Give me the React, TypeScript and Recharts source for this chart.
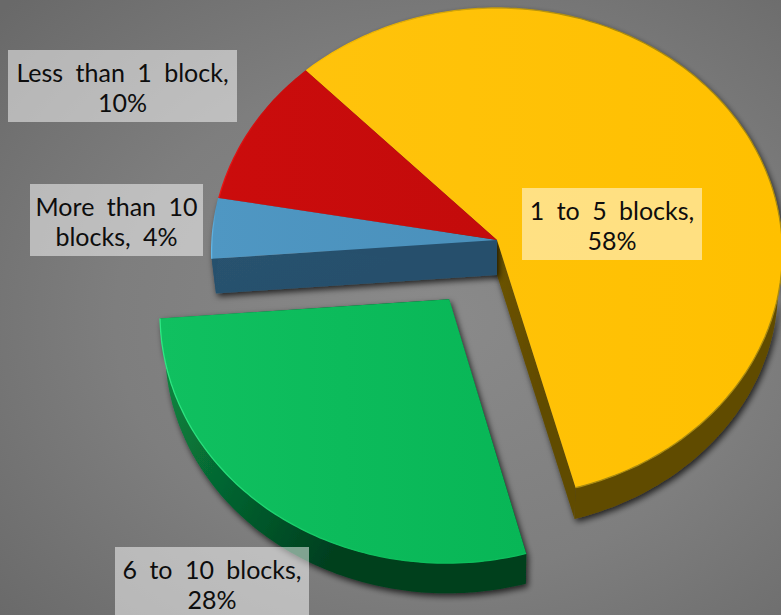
import { Pie, PieChart } from "recharts";

const categories = ["1 to 5 blocks", "6 to 10 blocks", "More than 10 blocks", "Less than 1 block"];
const shares = [58, 28, 4, 10];
const labelLines = [
  ["1 to 5 blocks,", "58%"],
  ["6 to 10 blocks,", "28%"],
  ["More than 10", "blocks, 4%"],
  ["Less than 1 block,", "10%"],
];

const data = categories.map((name, i) => ({ name, value: shares[i] }));

// look of each slice, same order as the data
const looks = [
  { id: "yellow", top: ["#ffc30c", "#ffc000"], wall: ["#6b5300", "#614b00"], rim: ["#ffc000", "#a88a10"], du: 0, dv: 0 },
  { id: "green", top: ["#10c060", "#08b656"], wall: ["#0b8d43", "#003f1f"], rim: ["#2fe884", "#0cbf5c"], du: -0.166, dv: 0.24 },
  { id: "blue", top: ["#4f97c3", "#4a90bb"], wall: ["#29526f", "#27506c"], rim: ["#62b6e6", "#4f97c3"], du: 0, dv: 0 },
  { id: "red", top: ["#cb0c0c", "#c30b0b"], wall: ["#7a0808", "#7a0808"], rim: ["#ea1414", "#cb0c0c"], du: 0, dv: 0 },
];

const labelBoxes = [
  { x: 522, y: 188, w: 180, h: 72 },
  { x: 115, y: 547, w: 194, h: 72 },
  { x: 30, y: 184, w: 173, h: 72 },
  { x: 8, y: 50, w: 229, h: 72 },
];

const TILT = 0.856;
const PERSPECTIVE = 0.0515;
const DEPTH = 35;
const BOTTOM_SCALE = 0.985;
const RAD = Math.PI / 180;

type Pt = [number, number];

function project(p: any, u: number, v: number): Pt {
  const w = 1 - PERSPECTIVE * v;
  return [p.cx + (p.outerRadius * u) / w, p.cy + (p.outerRadius * TILT * v) / w];
}

function rimPoints(p: any): Pt[] {
  const look = looks[p.index];
  const steps = Math.ceil(Math.abs(p.startAngle - p.endAngle));
  const out: Pt[] = [];
  for (let i = 0; i <= steps; i++) {
    const a = (p.startAngle + ((p.endAngle - p.startAngle) * i) / steps) * RAD;
    out.push(project(p, Math.cos(a) + look.du, -Math.sin(a) + look.dv));
  }
  return out;
}

function lower(p: any, pt: Pt): Pt {
  return [p.cx + BOTTOM_SCALE * (pt[0] - p.cx), p.cy + DEPTH + BOTTOM_SCALE * (pt[1] - p.cy)];
}

const toPath = (pts: Pt[], close = true) =>
  pts.map((pt, i) => `${i ? "L" : "M"}${pt[0].toFixed(1)} ${pt[1].toFixed(1)}`).join("") + (close ? "Z" : "");

function WallShape(p: any) {
  const look = looks[p.index];
  const rim = rimPoints(p);
  const apex = project(p, look.du, look.dv);
  // slices sitting wholly on the back half show no wall
  if (Math.max(...rim.map((pt) => pt[1])) <= p.cy) return <g />;
  const shell = [...rim, ...rim.map((pt) => lower(p, pt)).reverse()];
  const endSide = [apex, rim[rim.length - 1], lower(p, rim[rim.length - 1]), lower(p, apex)];
  const startSide = [apex, rim[0], lower(p, rim[0]), lower(p, apex)];
  const fill = `url(#wall-${look.id})`;
  return (
    <g filter="url(#wallShadow)">
      <path d={toPath(startSide)} fill={fill} />
      <path d={toPath(endSide)} fill={fill} />
      <path d={toPath(shell)} fill={fill} />
    </g>
  );
}

function TopShape(p: any) {
  const look = looks[p.index];
  const rim = rimPoints(p);
  const apex = project(p, look.du, look.dv);
  return (
    <g>
      <path d={toPath([apex, ...rim])} fill={`url(#top-${look.id})`} />
      <path d={toPath(rim, false)} fill="none" stroke={`url(#rim-${look.id})`} strokeWidth={1.3} />
    </g>
  );
}

function BoxLabel(p: any) {
  const box = labelBoxes[p.index];
  const lines = labelLines[p.index];
  const mid = box.x + box.w / 2;
  return (
    <g>
      <rect x={box.x} y={box.y} width={box.w} height={box.h} fill="#fff" fillOpacity={0.5} />
      {lines.map((line, i) => (
        <text
          key={line}
          x={mid}
          y={box.y + 32 + i * 30}
          textAnchor="middle"
          fill="#0d0d0d"
          fontFamily="Lato, sans-serif"
          fontSize={25}
          style={{ wordSpacing: 6 }}
        >
          {line}
        </text>
      ))}
    </g>
  );
}

export default function App() {
  return (
    <div
      style={{
        position: "absolute",
        left: 0,
        top: 0,
        width: 781,
        height: 615,
        overflow: "hidden",
        background: "radial-gradient(ellipse 75% 75% at 56% 52%, #8a8a8a 0%, #7e7e7e 55%, #696969 100%)",
      }}
    >
      <PieChart width={781} height={615} margin={{ top: 0, right: 0, bottom: 0, left: 0 }}>
        <defs>
          <filter id="wallShadow" x="-20%" y="-20%" width="140%" height="140%">
            <feDropShadow dx={2} dy={3} stdDeviation={3} floodColor="#000" floodOpacity={0.75} />
          </filter>
          {looks.map((look) => (
            <linearGradient key={look.id} id={`top-${look.id}`} x1="0" y1="0" x2="1" y2="0">
              <stop offset="0%" stopColor={look.top[0]} />
              <stop offset="100%" stopColor={look.top[1]} />
            </linearGradient>
          ))}
          {looks.map((look) => (
            <linearGradient key={look.id} id={`wall-${look.id}`} x1="0" y1="0" x2="1" y2="0.4">
              <stop offset="0%" stopColor={look.wall[0]} />
              <stop offset="70%" stopColor={look.wall[1]} />
            </linearGradient>
          ))}
          {looks.map((look) => (
            <linearGradient key={look.id} id={`rim-${look.id}`} x1="0" y1="0" x2="1" y2="0">
              <stop offset="0%" stopColor={look.rim[0]} />
              <stop offset="60%" stopColor={look.rim[1]} />
            </linearGradient>
          ))}
        </defs>
        <Pie
          data={data}
          dataKey="value"
          nameKey="name"
          cx={497}
          cy={240}
          outerRadius={285}
          startAngle={134}
          endAngle={-226}
          stroke="none"
          shape={WallShape}
          isAnimationActive={false}
        />
        <Pie
          data={data}
          dataKey="value"
          nameKey="name"
          cx={497}
          cy={240}
          outerRadius={285}
          startAngle={134}
          endAngle={-226}
          stroke="none"
          shape={TopShape}
          label={BoxLabel}
          labelLine={false}
          isAnimationActive={false}
        />
      </PieChart>
    </div>
  );
}
